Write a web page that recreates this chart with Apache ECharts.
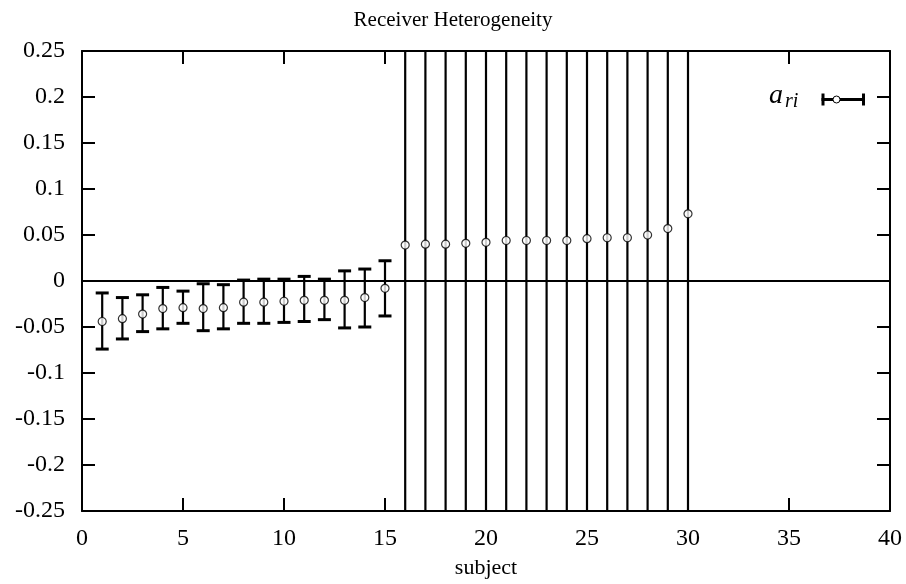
<!DOCTYPE html>
<html>
<head>
<meta charset="utf-8">
<script src="https://cdn.jsdelivr.net/npm/echarts@6/dist/echarts.min.js"></script>
<style>
  html, body { margin: 0; padding: 0; background: #fff; }
  #chart { width: 906px; height: 584px; }
</style>
</head>
<body>
<div id="chart"></div>
<script>
// subjects 1..30, point estimate and error bar ends
const subjects = [1, 2, 3, 4, 5, 6, 7, 8, 9, 10, 11, 12, 13, 14, 15,
  16, 17, 18, 19, 20, 21, 22, 23, 24, 25, 26, 27, 28, 29, 30]
const estimate = [-0.044, -0.041, -0.036, -0.030, -0.029, -0.030, -0.029, -0.023, -0.023, -0.022,
  -0.021, -0.021, -0.021, -0.018, -0.008,
  0.039, 0.040, 0.040, 0.041, 0.042, 0.044, 0.044, 0.044, 0.044, 0.046, 0.047, 0.047, 0.050, 0.057, 0.073]
const lower = [-0.074, -0.063, -0.055, -0.052, -0.046, -0.054, -0.052, -0.046, -0.046, -0.045,
  -0.044, -0.042, -0.051, -0.050, -0.038,
  -0.62, -0.61, -0.61, -0.60, -0.60, -0.59, -0.59, -0.59, -0.59, -0.58, -0.58, -0.58, -0.57, -0.56, -0.55]
const upper = [-0.013, -0.018, -0.015, -0.007, -0.011, -0.003, -0.004, 0.001, 0.002, 0.002,
  0.005, 0.002, 0.011, 0.013, 0.022,
  0.70, 0.69, 0.69, 0.68, 0.68, 0.68, 0.68, 0.68, 0.68, 0.67, 0.67, 0.67, 0.67, 0.66, 0.66]

const font = 'Liberation Serif'

const chart = echarts.init(document.getElementById('chart'))

const errData = subjects.map((s, i) => [s, lower[i], upper[i]])
const ptData = subjects.map((s, i) => [s, estimate[i]])

function renderErr(params, api) {
  const cs = params.coordSys
  const x = api.coord([api.value(0), 0])[0]
  const yLo = api.coord([0, api.value(1)])[1]
  const yHi = api.coord([0, api.value(2)])[1]
  const top = cs.y, bottom = cs.y + cs.height
  const y1 = Math.max(top, Math.min(bottom, yHi))
  const y2 = Math.max(top, Math.min(bottom, yLo))
  const cap = 6.5
  const children = [{ type: 'line', shape: { x1: x, y1: y1, x2: x, y2: y2 }, style: { stroke: '#000', lineWidth: 2.2 } }]
  if (yHi >= top && yHi <= bottom) {
    children.push({ type: 'line', shape: { x1: x - cap, y1: yHi, x2: x + cap, y2: yHi }, style: { stroke: '#000', lineWidth: 3 } })
  }
  if (yLo >= top && yLo <= bottom) {
    children.push({ type: 'line', shape: { x1: x - cap, y1: yLo, x2: x + cap, y2: yLo }, style: { stroke: '#000', lineWidth: 3 } })
  }
  return { type: 'group', children: children }
}

const tickStyle = { show: true, inside: true, length: 13, lineStyle: { color: '#000', width: 2 } }
const lineStyle = { show: true, onZero: false, lineStyle: { color: '#000', width: 2 } }
const labelStyle = { color: '#000', fontFamily: font, fontSize: 24 }

chart.setOption({
  animation: false,
  title: {
    text: 'Receiver Heterogeneity',
    left: 'center',
    top: 5,
    textStyle: { fontFamily: font, fontSize: 21, fontWeight: 'normal', color: '#000' }
  },
  grid: { left: 82, right: 16, top: 51, bottom: 72 },
  xAxis: [
    {
      type: 'value', min: 0, max: 40, interval: 5,
      name: 'subject', nameLocation: 'middle', nameGap: 46,
      nameTextStyle: { fontFamily: font, fontSize: 22, color: '#000' },
      axisLine: lineStyle, axisTick: tickStyle,
      axisLabel: Object.assign({ margin: 16 }, labelStyle),
      splitLine: { show: false }
    },
    {
      type: 'value', position: 'top', min: 0, max: 40, interval: 5,
      axisLine: lineStyle, axisTick: tickStyle, axisLabel: { show: false }, splitLine: { show: false }
    }
  ],
  yAxis: [
    {
      type: 'value', min: -0.25, max: 0.25, interval: 0.05,
      axisLine: lineStyle, axisTick: tickStyle,
      axisLabel: Object.assign({ margin: 17 }, labelStyle),
      splitLine: { show: false }
    },
    {
      type: 'value', position: 'right', min: -0.25, max: 0.25, interval: 0.05,
      axisLine: lineStyle, axisTick: tickStyle, axisLabel: { show: false }, splitLine: { show: false }
    }
  ],
  series: [
    {
      type: 'custom',
      renderItem: renderErr,
      data: errData,
      silent: true,
      markLine: {
        silent: true,
        symbol: 'none',
        label: { show: false },
        lineStyle: { color: '#000', width: 2, type: 'solid' },
        data: [{ yAxis: 0 }]
      }
    },
    {
      type: 'scatter',
      data: ptData,
      symbol: 'circle',
      symbolSize: 8,
      itemStyle: { color: '#fff', borderColor: '#000', borderWidth: 1.2 },
      z: 5
    }
  ],
  graphic: [
    {
      type: 'text', left: 769, top: 82,
      style: {
        text: '{a|a}{s|ri}',
        rich: {
          a: { fontFamily: font, fontStyle: 'italic', fontSize: 28, fill: '#000' },
          s: { fontFamily: font, fontStyle: 'italic', fontSize: 20, fill: '#000', padding: [12, 0, 0, 2] }
        }
      }
    },
    {
      type: 'group', left: 819, top: 91,
      children: [
        { type: 'line', shape: { x1: 0, y1: 6, x2: 43, y2: 6 }, style: { stroke: '#000', lineWidth: 3 } },
        { type: 'line', shape: { x1: 1.5, y1: 0, x2: 1.5, y2: 12 }, style: { stroke: '#000', lineWidth: 3 } },
        { type: 'line', shape: { x1: 42, y1: 0, x2: 42, y2: 12 }, style: { stroke: '#000', lineWidth: 3 } },
        { type: 'circle', shape: { cx: 15, cy: 6, r: 3.5 }, style: { fill: '#fff', stroke: '#000', lineWidth: 1 } }
      ]
    }
  ]
})
</script>
</body>
</html>
